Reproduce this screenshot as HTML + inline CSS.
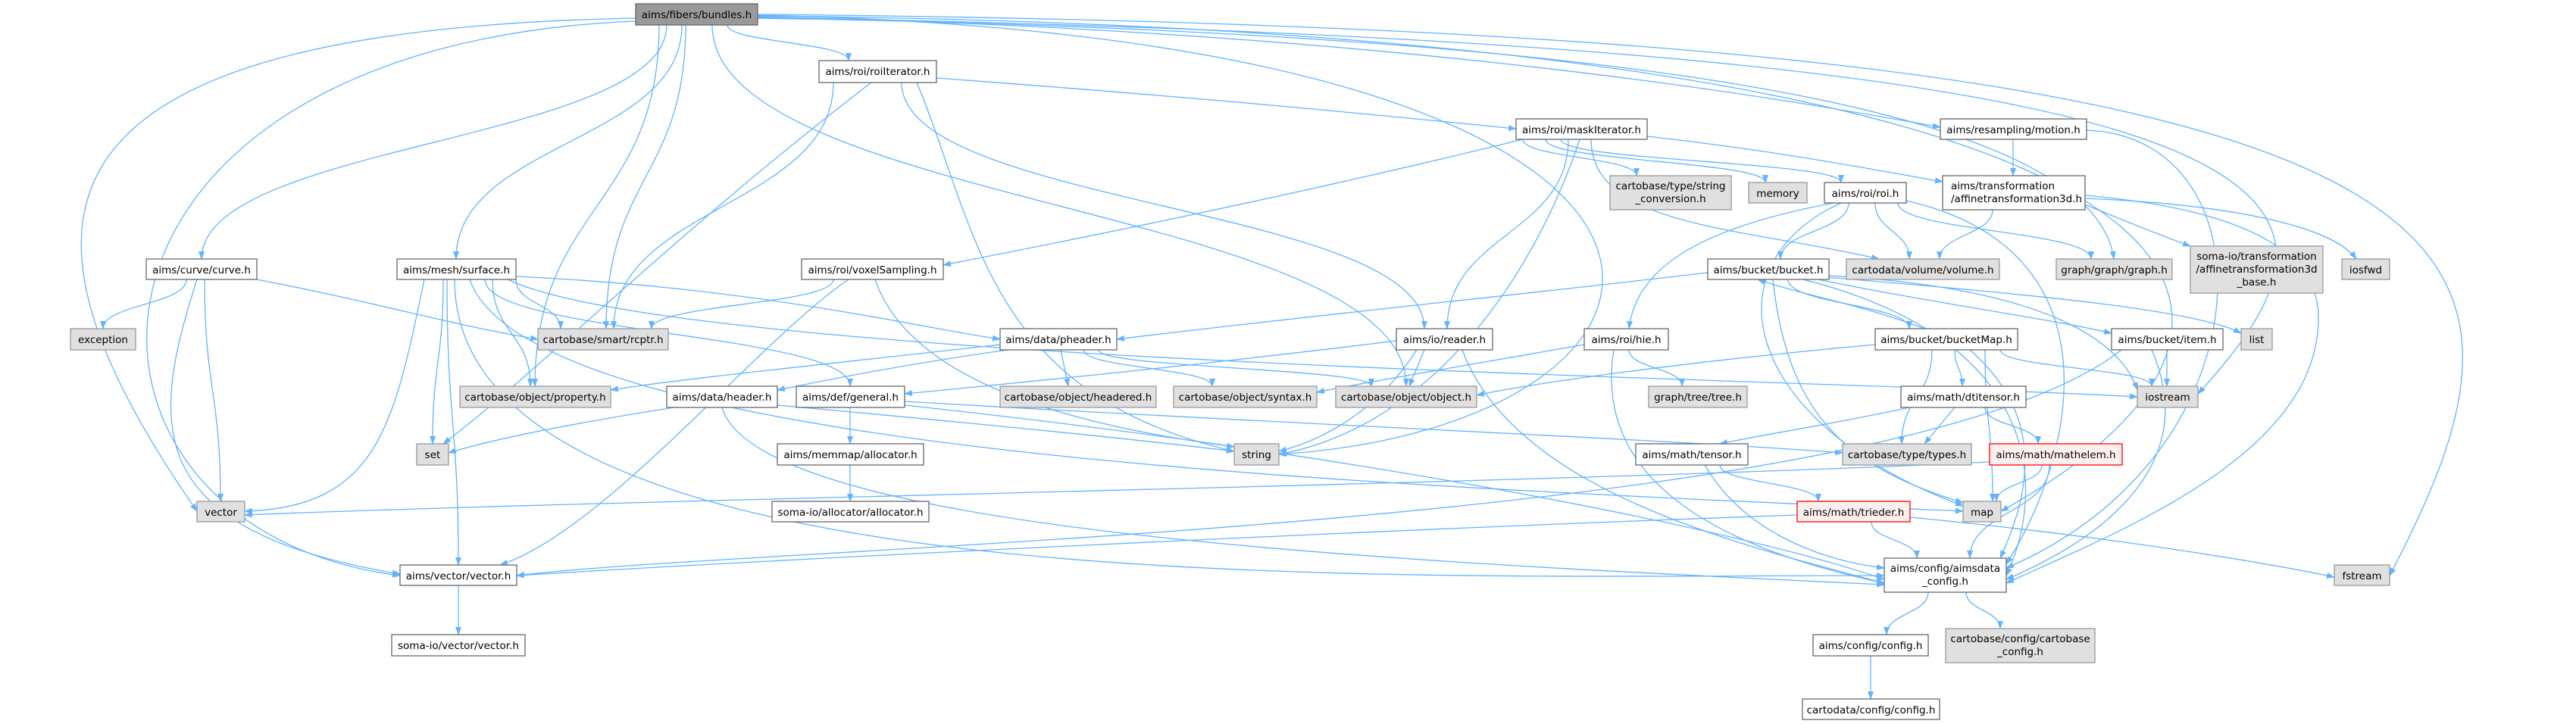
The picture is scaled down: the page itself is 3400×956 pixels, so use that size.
<!DOCTYPE html>
<html><head><meta charset="utf-8"><style>
html,body{margin:0;padding:0;background:#fff;}
svg{display:block}
text{font-family:"DejaVu Sans","Liberation Sans",sans-serif;font-size:13.5px;fill:#000}
.e{fill:none;stroke:#63b3ff;stroke-width:1.3}
.w{fill:#fff;stroke:#666;stroke-width:1.3}
.g{fill:#e0e0e0;stroke:#999;stroke-width:1.3}
.r{fill:#fff0f0;stroke:#f00;stroke-width:1.3}
.m{fill:#999;stroke:#666;stroke-width:1.3}
</style></head><body>
<svg width="3400" height="956" viewBox="0 0 3400 956" xmlns="http://www.w3.org/2000/svg">
<defs><marker id="a" markerWidth="11" markerHeight="8" refX="10" refY="4" orient="auto" markerUnits="userSpaceOnUse"><path d="M0,0L11,4L0,8z" fill="#63b3ff"/></marker></defs>
<g class="e" marker-end="url(#a)">
<path d="M880 33C880 188 266 188 266 342"/>
<path d="M900 33C900 188 602 188 602 342"/>
<path d="M960 33C960 56 1120 56 1120 80"/>
<path d="M905 33C905 233 800 233 800 434"/>
<path d="M870 33C870 272 706 272 706 510"/>
<path d="M940 33C940 272 1856 272 1856 510"/>
<path d="M1000 22C1800 40 2300 120 2561 168"/>
<path d="M1000 24C2000 40 2760 120 2790 342"/>
<path d="M1000 20C2400 50 2300 560 1688 600"/>
<path d="M1000 21C3000 40 3100 420 2641 675"/>
<path d="M1000 19C3350 40 3395 300 3154 760"/>
<path d="M839 24C0 40 0 300 260 675"/>
<path d="M839 28C40 60 40 700 528 760"/>
<path d="M1000 23C3100 60 3150 250 2901 520"/>
<path d="M246 369C246 402 136 402 136 434"/>
<path d="M270 369C270 515 291 515 291 662"/>
<path d="M260 369C200 557 180 700 528 758"/>
<path d="M339 369C500 400 600 430 710 448"/>
<path d="M681 369C681 402 740 402 740 434"/>
<path d="M681 365C1000 380 1200 430 1320 448"/>
<path d="M640 369C640 440 1122 440 1122 510"/>
<path d="M585 369C585 478 571 478 571 586"/>
<path d="M560 369C520 560 500 670 323 675"/>
<path d="M590 369C590 558 605 558 605 746"/>
<path d="M620 369C700 600 1800 640 2591 675"/>
<path d="M600 369C600 800 1800 760 2487 760"/>
<path d="M670 369C900 480 2400 500 2821 524"/>
<path d="M650 369C650 440 700 440 700 510"/>
<path d="M1236 103C1600 130 1800 150 2001 170"/>
<path d="M1100 109C1100 272 810 272 810 434"/>
<path d="M1190 109C1190 272 1880 272 1880 434"/>
<path d="M1210 109C1290 300 1300 520 1629 596"/>
<path d="M1150 109C900 300 700 500 585 586"/>
<path d="M2010 184C2010 208 2160 208 2160 232"/>
<path d="M2040 184C2040 213 2330 213 2330 241"/>
<path d="M2060 184C2060 213 2430 213 2430 241"/>
<path d="M2174 180C2350 200 2450 220 2564 240"/>
<path d="M2010 184C1700 260 1400 320 1245 350"/>
<path d="M2070 184C2070 309 1910 309 1910 434"/>
<path d="M2100 184C2100 300 2300 300 2480 342"/>
<path d="M2085 184C2030 350 1900 560 1688 600"/>
<path d="M2657 184L2657 232"/>
<path d="M2754 172C3000 180 3000 600 2648 750"/>
<path d="M2630 277C2630 310 2560 310 2560 342"/>
<path d="M2752 270C2800 290 2850 310 2891 325"/>
<path d="M2752 262C2950 270 3080 300 3110 342"/>
<path d="M2752 258C3000 280 3060 350 3060 420C3060 600 2800 700 2648 770"/>
<path d="M2440 268C2440 305 2350 305 2350 342"/>
<path d="M2420 268C2250 300 2160 350 2150 434"/>
<path d="M2475 268C2475 305 2520 305 2520 342"/>
<path d="M2505 268C2505 305 2760 305 2760 342"/>
<path d="M2516 265C2800 330 2740 600 2648 745"/>
<path d="M2430 268C2250 350 2300 560 2591 668"/>
<path d="M1100 369C1100 402 860 402 860 434"/>
<path d="M1120 369C1000 450 800 700 660 746"/>
<path d="M1155 369C1200 500 1400 560 1629 590"/>
<path d="M2254 360C2000 390 1700 420 1474 448"/>
<path d="M2360 369C2360 402 2520 402 2520 434"/>
<path d="M2400 369C2550 400 2700 420 2787 440"/>
<path d="M2410 366C2700 390 2900 410 2958 440"/>
<path d="M2414 364C2700 380 2800 450 2821 515"/>
<path d="M2340 369C2360 560 2450 620 2591 664"/>
<path d="M2380 369C2700 450 2700 650 2648 760"/>
<path d="M2540 434C2450 400 2380 390 2320 369"/>
<path d="M2580 462C2580 486 2590 486 2590 510"/>
<path d="M2550 462C2550 524 2510 524 2510 586"/>
<path d="M2475 455C2200 480 2000 510 1949 522"/>
<path d="M2640 462C2640 486 2840 486 2840 510"/>
<path d="M2620 462C2620 562 2630 562 2630 662"/>
<path d="M2600 462C2700 550 2680 650 2640 737"/>
<path d="M2860 462L2860 510"/>
<path d="M2840 462C2900 600 2800 700 2648 765"/>
<path d="M2800 462C2500 700 1000 720 682 760"/>
<path d="M1330 462C1200 480 1100 500 1026 515"/>
<path d="M1320 455C1100 480 900 500 806 515"/>
<path d="M1400 462L1410 510"/>
<path d="M1430 462C1430 486 1600 486 1600 510"/>
<path d="M1450 462C1450 486 1810 486 1810 510"/>
<path d="M890 538C750 560 650 580 592 598"/>
<path d="M1026 535C1300 560 1500 580 1629 596"/>
<path d="M953 538C1000 700 1800 740 2487 772"/>
<path d="M1122 538L1122 586"/>
<path d="M1194 530C1700 560 2200 580 2432 598"/>
<path d="M1194 535C1800 600 2300 700 2487 765"/>
<path d="M1122 614L1122 662"/>
<path d="M1843 450C1600 480 1400 500 1194 520"/>
<path d="M1880 462L1860 510"/>
<path d="M1870 462C1820 540 1750 580 1688 596"/>
<path d="M1930 462C2000 650 2300 720 2487 770"/>
<path d="M2150 462C2150 486 2220 486 2220 510"/>
<path d="M2091 455C1950 480 1800 505 1738 518"/>
<path d="M2130 462C2100 650 2300 730 2487 770"/>
<path d="M2520 538C2420 560 2320 575 2270 586"/>
<path d="M2580 538L2540 586"/>
<path d="M2620 538C2620 562 2690 562 2690 586"/>
<path d="M2270 614C2270 638 2400 638 2400 662"/>
<path d="M2250 614C2300 700 2400 740 2487 750"/>
<path d="M2695 614C2695 638 2635 638 2635 662"/>
<path d="M2626 610C2000 640 800 660 323 680"/>
<path d="M2705 614C2705 676 2600 676 2600 737"/>
<path d="M2470 689C2470 713 2530 713 2530 737"/>
<path d="M2372 680C1800 700 1000 740 682 760"/>
<path d="M2521 683C2800 710 3000 745 3081 762"/>
<path d="M2545 782C2545 810 2490 810 2490 838"/>
<path d="M2595 782C2595 806 2640 806 2640 830"/>
<path d="M2469 866L2469 923"/>
<path d="M605 773L605 838"/>
</g>
<g>
<rect class="m" x="839" y="5" width="161" height="28"/><text x="919.5" y="24" text-anchor="middle">aims/fibers/bundles.h</text>
<rect class="w" x="193" y="342" width="146" height="27"/><text x="266" y="361" text-anchor="middle">aims/curve/curve.h</text>
<rect class="w" x="524" y="342" width="157" height="27"/><text x="602.5" y="361" text-anchor="middle">aims/mesh/surface.h</text>
<rect class="w" x="1081" y="80" width="155" height="29"/><text x="1158.5" y="99" text-anchor="middle">aims/roi/roiIterator.h</text>
<rect class="w" x="2001" y="157" width="173" height="27"/><text x="2087.5" y="176" text-anchor="middle">aims/roi/maskIterator.h</text>
<rect class="w" x="2561" y="157" width="193" height="27"/><text x="2657.5" y="176" text-anchor="middle">aims/resampling/motion.h</text>
<rect class="g" x="2125" y="232" width="160" height="45"/><text x="2205" y="250" text-anchor="middle">cartobase/type/string</text><text x="2205" y="267" text-anchor="middle">_conversion.h</text>
<rect class="g" x="2308" y="241" width="77" height="27"/><text x="2346.5" y="260" text-anchor="middle">memory</text>
<rect class="w" x="2408" y="241" width="108" height="27"/><text x="2462" y="260" text-anchor="middle">aims/roi/roi.h</text>
<rect class="w" x="2564" y="232" width="188" height="45"/><text x="2575" y="250">aims/transformation</text><text x="2575" y="267">/affinetransformation3d.h</text>
<rect class="g" x="2891" y="325" width="175" height="62"/><text x="2978.5" y="343" text-anchor="middle">soma-io/transformation</text><text x="2978.5" y="360" text-anchor="middle">/affinetransformation3d</text><text x="2978.5" y="377" text-anchor="middle">_base.h</text>
<rect class="g" x="3091" y="342" width="63" height="27"/><text x="3122.5" y="361" text-anchor="middle">iosfwd</text>
<rect class="w" x="1058" y="342" width="187" height="27"/><text x="1151.5" y="361" text-anchor="middle">aims/roi/voxelSampling.h</text>
<rect class="w" x="2254" y="342" width="160" height="27"/><text x="2334" y="361" text-anchor="middle">aims/bucket/bucket.h</text>
<rect class="g" x="2437" y="342" width="202" height="27"/><text x="2538" y="361" text-anchor="middle">cartodata/volume/volume.h</text>
<rect class="g" x="2714" y="342" width="153" height="27"/><text x="2790.5" y="361" text-anchor="middle">graph/graph/graph.h</text>
<rect class="g" x="93" y="434" width="86" height="28"/><text x="136" y="453" text-anchor="middle">exception</text>
<rect class="g" x="710" y="434" width="172" height="28"/><text x="796" y="453" text-anchor="middle">cartobase/smart/rcptr.h</text>
<rect class="w" x="1320" y="434" width="154" height="28"/><text x="1397" y="453" text-anchor="middle">aims/data/pheader.h</text>
<rect class="w" x="1843" y="434" width="127" height="28"/><text x="1906.5" y="453" text-anchor="middle">aims/io/reader.h</text>
<rect class="w" x="2091" y="434" width="111" height="28"/><text x="2146.5" y="453" text-anchor="middle">aims/roi/hie.h</text>
<rect class="w" x="2475" y="434" width="188" height="28"/><text x="2569" y="453" text-anchor="middle">aims/bucket/bucketMap.h</text>
<rect class="w" x="2787" y="434" width="147" height="28"/><text x="2860.5" y="453" text-anchor="middle">aims/bucket/item.h</text>
<rect class="g" x="2958" y="434" width="41" height="28"/><text x="2978.5" y="453" text-anchor="middle">list</text>
<rect class="g" x="607" y="510" width="199" height="28"/><text x="706.5" y="529" text-anchor="middle">cartobase/object/property.h</text>
<rect class="w" x="880" y="510" width="146" height="28"/><text x="953" y="529" text-anchor="middle">aims/data/header.h</text>
<rect class="w" x="1051" y="510" width="143" height="28"/><text x="1122.5" y="529" text-anchor="middle">aims/def/general.h</text>
<rect class="g" x="1320" y="510" width="206" height="28"/><text x="1423" y="529" text-anchor="middle">cartobase/object/headered.h</text>
<rect class="g" x="1549" y="510" width="189" height="28"/><text x="1643.5" y="529" text-anchor="middle">cartobase/object/syntax.h</text>
<rect class="g" x="1763" y="510" width="186" height="28"/><text x="1856" y="529" text-anchor="middle">cartobase/object/object.h</text>
<rect class="g" x="2176" y="510" width="130" height="28"/><text x="2241" y="529" text-anchor="middle">graph/tree/tree.h</text>
<rect class="w" x="2509" y="510" width="165" height="28"/><text x="2591.5" y="529" text-anchor="middle">aims/math/dtitensor.h</text>
<rect class="g" x="2821" y="510" width="80" height="28"/><text x="2861" y="529" text-anchor="middle">iostream</text>
<rect class="g" x="550" y="586" width="42" height="28"/><text x="571" y="605" text-anchor="middle">set</text>
<rect class="w" x="1026" y="586" width="193" height="28"/><text x="1122.5" y="605" text-anchor="middle">aims/memmap/allocator.h</text>
<rect class="g" x="1629" y="586" width="59" height="28"/><text x="1658.5" y="605" text-anchor="middle">string</text>
<rect class="w" x="2159" y="586" width="148" height="28"/><text x="2233" y="605" text-anchor="middle">aims/math/tensor.h</text>
<rect class="g" x="2432" y="586" width="170" height="28"/><text x="2517" y="605" text-anchor="middle">cartobase/type/types.h</text>
<rect class="r" x="2626" y="586" width="175" height="28"/><text x="2713.5" y="605" text-anchor="middle">aims/math/mathelem.h</text>
<rect class="g" x="260" y="662" width="63" height="27"/><text x="291.5" y="681" text-anchor="middle">vector</text>
<rect class="w" x="1019" y="662" width="207" height="27"/><text x="1122.5" y="681" text-anchor="middle">soma-io/allocator/allocator.h</text>
<rect class="r" x="2372" y="662" width="149" height="27"/><text x="2446.5" y="681" text-anchor="middle">aims/math/trieder.h</text>
<rect class="g" x="2591" y="662" width="50" height="27"/><text x="2616" y="681" text-anchor="middle">map</text>
<rect class="w" x="528" y="746" width="154" height="27"/><text x="605" y="765" text-anchor="middle">aims/vector/vector.h</text>
<rect class="w" x="2487" y="737" width="161" height="45"/><text x="2567.5" y="755" text-anchor="middle">aims/config/aimsdata</text><text x="2567.5" y="772" text-anchor="middle">_config.h</text>
<rect class="g" x="3081" y="746" width="73" height="27"/><text x="3117.5" y="765" text-anchor="middle">fstream</text>
<rect class="w" x="517" y="838" width="176" height="28"/><text x="605" y="857" text-anchor="middle">soma-io/vector/vector.h</text>
<rect class="w" x="2393" y="838" width="152" height="28"/><text x="2469" y="857" text-anchor="middle">aims/config/config.h</text>
<rect class="g" x="2568" y="830" width="197" height="45"/><text x="2666.5" y="848" text-anchor="middle">cartobase/config/cartobase</text><text x="2666.5" y="865" text-anchor="middle">_config.h</text>
<rect class="w" x="2379" y="923" width="181" height="27"/><text x="2469.5" y="942" text-anchor="middle">cartodata/config/config.h</text>
</g>
</svg>
</body></html>
